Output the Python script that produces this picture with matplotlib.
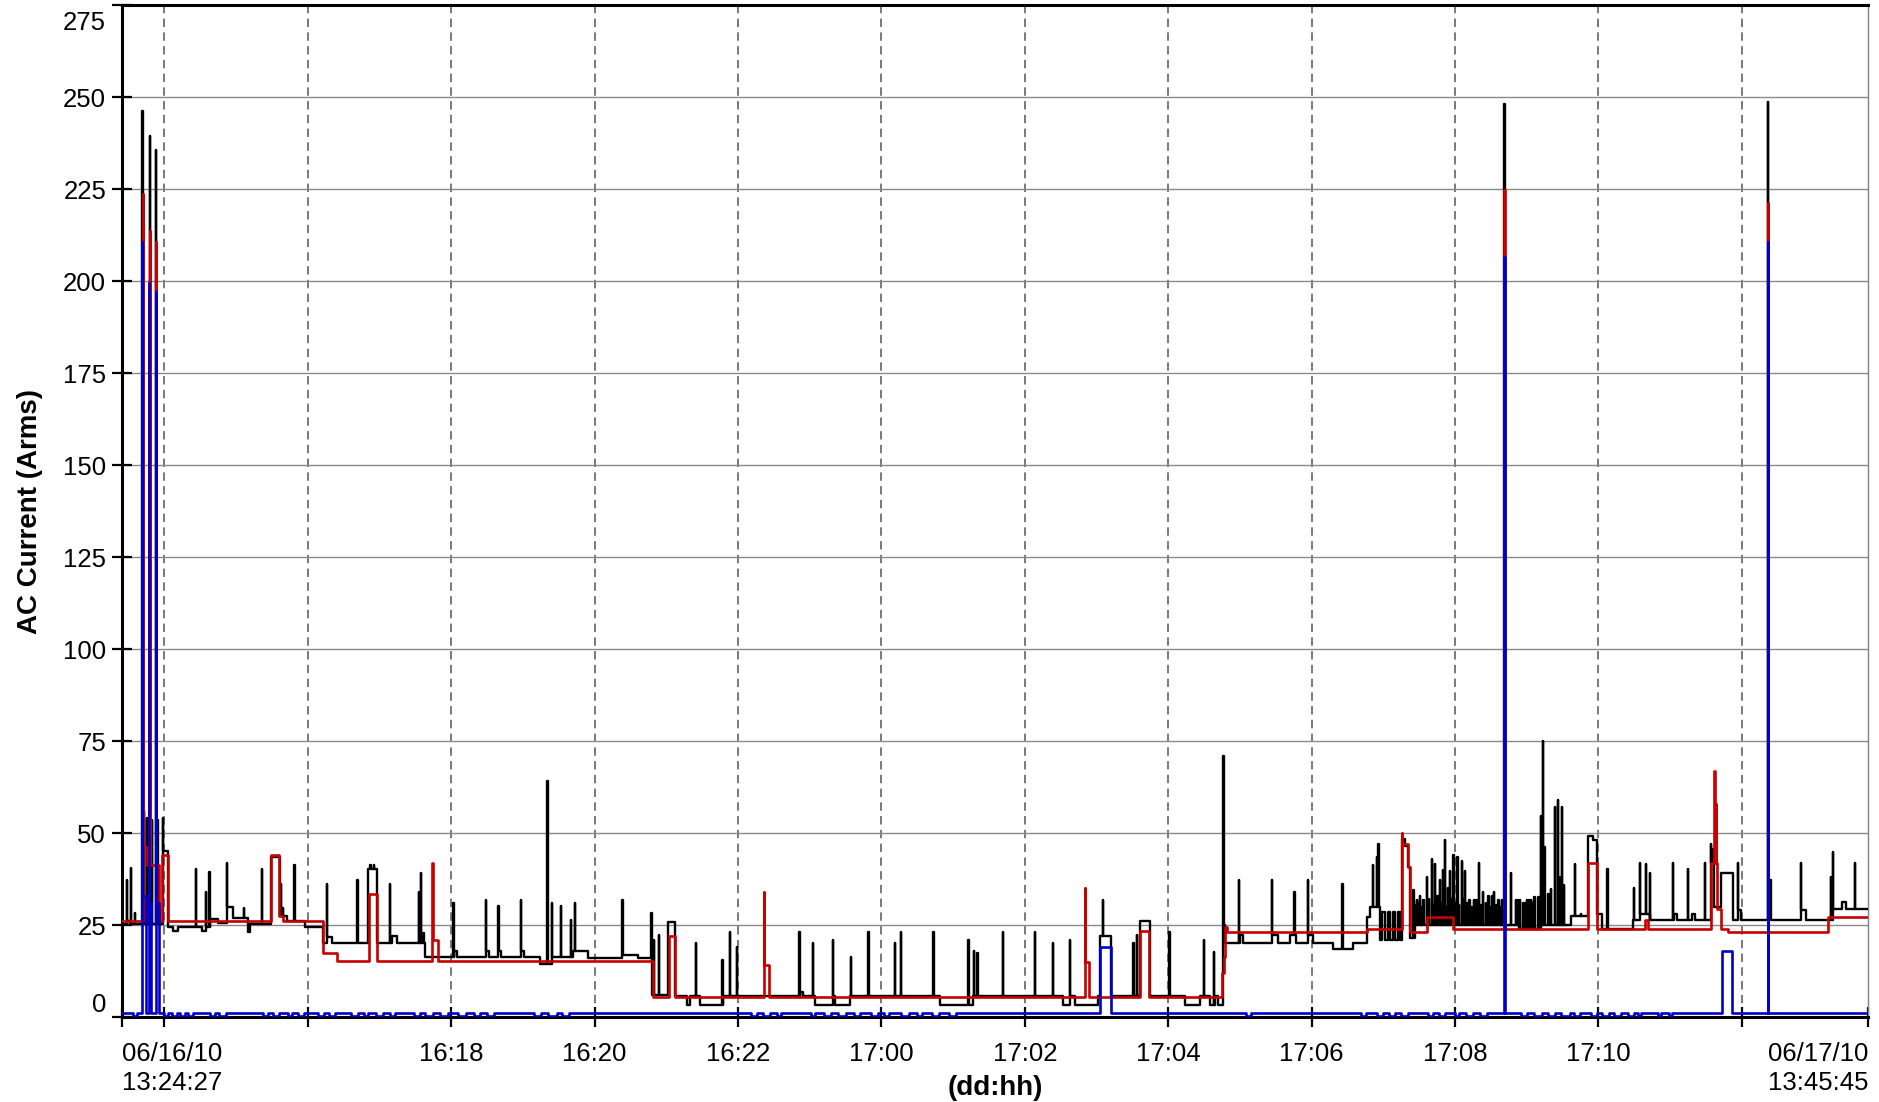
import numpy as np
import matplotlib
matplotlib.use("Agg")
import matplotlib.pyplot as plt
from matplotlib.transforms import ScaledTranslation

plt.rcParams['font.family'] = ['Liberation Sans', 'DejaVu Sans']

# Time axis: hours counted from 06/16/10 00:00
T_START = 13.4075   # 06/16/10 13:24:27
T_END = 37.7625     # 06/17/10 13:45:45

# ---------------- black trace ----------------
black_step_t = [13.4075, 13.48, 13.52, 13.984, 14.053, 14.119, 14.189, 14.519, 14.579, 14.635,
                14.747, 14.868, 14.960, 15.165, 15.193, 15.482, 15.611, 15.705, 15.960, 16.207,
                16.27, 16.33, 16.843, 16.968, 17.169, 17.239, 17.634, 18.04, 18.08, 18.49,
                18.53, 18.66, 18.70, 18.97, 19.01, 19.238, 19.401, 19.70, 19.91, 20.39,
                20.60, 20.795, 21.027, 21.120, 21.284, 21.330, 21.47, 21.79, 22.86, 22.90,
                23.073, 23.32, 23.36, 23.561, 24.817, 25.282, 26.537, 26.63, 26.70, 27.026,
                27.049, 27.198, 27.607, 27.746, 28.235, 28.444, 28.59, 28.65, 28.70, 28.765,
                28.80, 29.002, 29.05, 29.445, 29.537, 29.70, 29.79, 29.955, 30.025, 30.30,
                30.58, 30.769, 30.82, 30.955, 30.99, 31.03, 31.06, 31.10, 31.13, 31.17,
                31.20, 31.23, 31.257, 31.30, 31.350, 31.373, 31.45, 32.695, 32.705, 32.90,
                33.20, 33.62, 33.860, 33.92, 33.977, 34.05, 34.48, 34.58, 34.72, 35.06,
                35.10, 35.31, 35.35, 35.571, 35.61, 35.718, 35.879, 35.955, 35.99, 36.83,
                36.90, 37.28, 37.40, 37.46]
black_step_v = [25.2, 26.0, 25.2, 45.2, 24.5, 23.4, 24.5, 23.4, 24.5, 26.5,
                25.5, 29.9, 27.0, 23.1, 25.2, 43.4, 27.5, 26.0, 24.5, 20.0,
                21.8, 20.0, 40.3, 20.0, 22.0, 20.0, 16.4, 18.0, 16.4, 18.0,
                16.4, 18.0, 16.4, 18.0, 16.4, 14.4, 16.4, 18.0, 15.9, 16.8,
                15.9, 6.0, 25.8, 5.8, 3.3, 5.8, 3.3, 5.8, 6.9, 5.8,
                3.3, 5.8, 3.3, 5.8, 3.3, 5.8, 3.3, 5.8, 3.3, 5.8,
                22.0, 5.8, 26.1, 5.8, 3.3, 5.8, 3.3, 5.8, 3.3, 24.9,
                20.0, 22.2, 20.0, 22.2, 20.0, 22.2, 20.0, 22.2, 20.0, 18.5,
                20.0, 27.2, 29.9, 20.9, 28.5, 20.9, 28.5, 20.9, 28.5, 20.9,
                28.5, 20.9, 48.4, 46.6, 40.7, 21.5, 25.0, 59.0, 24.9, 24.0,
                24.9, 27.5, 49.1, 48.0, 28.1, 24.0, 26.3, 28.1, 26.3, 28.1,
                26.3, 28.1, 26.3, 41.8, 30.0, 39.1, 26.3, 29.0, 26.3, 29.0,
                26.3, 29.4, 31.3, 29.4]
black_spike_t = [13.473, 13.533, 13.589, 13.693, 13.714, 13.752, 13.795, 13.822, 13.878, 13.900,
                 13.980, 14.440, 14.575, 14.625, 14.866, 15.109, 15.356, 15.621, 15.649, 15.811,
                 16.262, 16.692, 16.87, 16.92, 17.145, 17.546, 17.574, 17.610, 18.029, 18.485,
                 18.656, 18.969, 19.340, 19.401, 19.531, 19.666, 19.722, 20.386, 20.790, 20.827,
                 20.897, 21.409, 21.780, 21.888, 21.981, 22.854, 23.041, 23.328, 23.575, 23.817,
                 24.189, 24.273, 24.724, 25.212, 25.292, 25.338, 25.692, 26.142, 26.389, 26.631,
                 27.087, 27.514, 27.561, 28.016, 28.500, 28.640, 28.769, 28.988, 29.445, 29.760,
                 29.947, 30.432, 30.852, 30.915, 30.931, 31.419, 31.44, 31.467, 31.49, 31.513,
                 31.54, 31.560, 31.611, 31.64, 31.677, 31.70, 31.723, 31.74, 31.765, 31.793,
                 31.82, 31.835, 31.862, 31.88, 31.904, 31.932, 31.95, 31.978, 32.00, 32.033,
                 32.06, 32.094, 32.12, 32.140, 32.17, 32.200, 32.23, 32.266, 32.30, 32.335,
                 32.37, 32.395, 32.43, 32.465, 32.49, 32.513, 32.545, 32.57, 32.605, 32.63,
                 32.652, 32.689, 32.784, 32.853, 32.88, 32.909, 32.955, 32.98, 33.002, 33.03,
                 33.057, 33.08, 33.108, 33.163, 33.197, 33.225, 33.247, 33.303, 33.341, 33.397,
                 33.434, 33.46, 33.490, 33.52, 33.676, 33.755, 34.125, 34.50, 34.58, 34.66,
                 34.72, 35.04, 35.25, 35.49, 35.575, 35.60, 35.95, 36.369, 36.402, 36.821,
                 37.244, 37.276, 37.579]
black_spike_v = [37.3, 40.4, 28.3, 246.3, 56.0, 54.0, 239.5, 53.4, 235.5, 53.4,
                 54.0, 40.3, 34.1, 39.4, 41.9, 29.5, 40.3, 36.2, 29.5, 41.4,
                 36.2, 37.1, 41.4, 41.4, 36.2, 34.0, 39.2, 22.7, 31.0, 31.9,
                 30.1, 31.9, 64.2, 31.0, 30.1, 26.3, 31.0, 31.9, 28.3, 20.9,
                 22.2, 20.0, 15.4, 23.1, 19.1, 23.1, 20.0, 21.0, 16.4, 23.1,
                 20.0, 23.1, 23.1, 21.0, 18.0, 17.5, 23.1, 23.1, 20.0, 21.0,
                 31.9, 20.0, 22.2, 23.1, 20.9, 17.7, 71.0, 37.2, 37.2, 34.0,
                 37.2, 36.1, 41.2, 43.5, 47.1, 34.4, 30.5, 31.7, 31.0, 33.0,
                 30.0, 31.7, 38.0, 32.0, 43.0, 30.5, 41.6, 33.0, 33.0, 37.1,
                 31.0, 40.0, 48.1, 30.0, 35.0, 39.8, 32.0, 43.9, 31.0, 43.5,
                 30.5, 42.5, 32.0, 39.8, 31.0, 31.7, 30.0, 31.7, 31.7, 41.8,
                 30.5, 34.0, 31.0, 33.0, 30.0, 33.0, 34.0, 30.5, 31.7, 30.0,
                 31.7, 248.0, 39.1, 31.7, 31.7, 31.7, 31.0, 31.0, 31.7, 31.7,
                 31.7, 31.0, 32.5, 32.5, 54.7, 75.1, 46.2, 33.5, 34.9, 57.0,
                 59.0, 38.0, 57.0, 36.0, 41.5, 28.1, 40.3, 35.1, 41.8, 41.5,
                 39.1, 41.8, 40.3, 41.8, 47.1, 45.7, 41.8, 248.7, 37.1, 41.8,
                 38.0, 44.8, 41.8]

# ---------------- red trace ----------------
red_step_t = [13.4075, 13.700, 13.756, 13.924, 13.970, 14.045, 15.482, 15.597, 15.66, 16.207,
              16.401, 16.853, 16.968, 17.736, 17.820, 20.809, 21.032, 21.120, 22.362, 22.431,
              26.840, 26.900, 27.607, 27.737, 28.756, 28.775, 28.790, 28.817, 30.769, 31.257,
              31.350, 31.373, 31.606, 31.977, 32.695, 32.705, 33.860, 33.977, 34.648, 34.694,
              35.571, 35.650, 35.718, 35.810, 37.20]
red_step_v = [26.2, 46.2, 41.2, 26.2, 43.9, 26.2, 43.9, 27.5, 26.2, 17.3,
              15.3, 33.3, 15.3, 20.9, 15.3, 5.3, 22.0, 5.3, 14.1, 5.3,
              15.0, 5.3, 23.3, 5.3, 12.0, 16.4, 24.5, 23.1, 23.8, 47.1,
              40.7, 23.1, 27.2, 24.0, 43.9, 24.0, 41.8, 23.8, 26.3, 23.8,
              41.8, 29.4, 24.0, 23.1, 27.2]
red_spike_t = [13.696, 13.798, 13.878, 17.736, 22.362, 26.840, 31.257, 32.689, 35.620, 35.645,
               36.369]
red_spike_v = [223.6, 213.6, 210.6, 41.8, 34.0, 35.0, 50.0, 224.7, 66.9, 57.9,
               221.1]

# ---------------- blue trace ----------------
blue_step_t = [13.4075, 13.693, 13.738, 13.790, 13.812, 13.882, 13.924, 27.049, 27.198, 32.695,
               32.705, 35.732, 35.872]
blue_step_v = [1.0, 33.0, 1.0, 31.0, 1.0, 31.0, 1.0, 18.9, 1.0, 34.4,
               1.0, 18.0, 1.0]
blue_spike_t = [13.691, 13.788, 13.878, 32.689, 36.369]
blue_spike_v = [210.6, 199.5, 197.0, 206.5, 210.7]
blue_dip_start = [13.56, 13.99, 14.10, 14.22, 14.33, 14.64, 14.76, 15.38, 15.52, 15.72,
                  15.86, 16.14, 16.30, 16.60, 16.78, 16.95, 17.14, 17.48, 17.64, 17.85,
                  18.10, 18.32, 18.50, 19.15, 19.35, 19.55, 22.18, 22.35, 22.55, 23.02,
                  23.20, 23.40, 23.62, 23.85, 24.03, 24.28, 24.50, 24.70, 24.95, 29.08,
                  30.69, 30.92, 31.08, 31.25, 31.63, 31.78, 32.00, 32.15, 32.35, 32.92,
                  33.10, 33.30, 33.48, 33.66, 33.90, 34.05, 34.22, 34.42, 34.55, 34.84,
                  34.98]
blue_dip_end = [13.62, 14.05, 14.17, 14.28, 14.40, 14.70, 14.86, 15.45, 15.60, 15.78,
                15.95, 16.22, 16.38, 16.70, 16.84, 17.05, 17.22, 17.56, 17.75, 17.95,
                18.20, 18.40, 18.60, 19.25, 19.47, 19.64, 22.26, 22.44, 22.60, 23.08,
                23.30, 23.50, 23.70, 23.95, 24.10, 24.38, 24.56, 24.80, 25.04, 29.16,
                30.76, 31.00, 31.16, 31.35, 31.70, 31.86, 32.06, 32.25, 32.45, 33.00,
                33.22, 33.40, 33.60, 33.75, 33.98, 34.15, 34.32, 34.50, 34.60, 34.88,
                35.03]
BLUE_DIP_LEVEL = 0.2
BLUE_REST_LEVEL = 1.0

# ---------------- axis labels ----------------
tick_hours = [14, 16, 18, 20, 22, 24, 26, 28, 30, 32, 34, 36]
tick_labels = ['', '', '16:18', '16:20', '16:22', '17:00', '17:02', '17:04',
               '17:06', '17:08', '17:10', '']
edge_labels = ['06/16/10\n13:24:27', '06/17/10\n13:45:45']
y_ticks = [0, 25, 50, 75, 100, 125, 150, 175, 200, 225, 250, 275]


def stepped(step_t, step_v, spike_t=(), spike_v=(), width=0.004):
    """Combine a step profile with narrow spikes into one step-post series."""
    st = np.asarray(step_t, float)
    sv = np.asarray(step_v, float)
    order = np.argsort(st, kind='stable')
    st, sv = st[order], sv[order]
    t = list(st)
    v = list(sv)
    for ts, vs in zip(spike_t, spike_v):
        back = sv[max(np.searchsorted(st, ts + width, side='right') - 1, 0)]
        t += [ts, ts + width]
        v += [vs, back]
    t = np.asarray(t)
    v = np.asarray(v)
    order = np.argsort(t, kind='stable')
    t, v = t[order], v[order]
    t = np.append(t, T_END)
    v = np.append(v, v[-1])
    return t, v


bt, bv = stepped(black_step_t, black_step_v, black_spike_t, black_spike_v)
rt, rv = stepped(red_step_t, red_step_v, red_spike_t, red_spike_v)

blue_t = list(blue_step_t)
blue_v = list(blue_step_v)
for a, b in zip(blue_dip_start, blue_dip_end):
    blue_t += [a, b]
    blue_v += [BLUE_DIP_LEVEL, BLUE_REST_LEVEL]
ut, uv = stepped(blue_t, blue_v, blue_spike_t, blue_spike_v)

fig = plt.figure(figsize=(18.79, 11.02), dpi=100, facecolor='white')
ax = fig.add_axes([0.06493, 0.07713, 0.92922, 0.91833])

ax.plot(bt, bv, drawstyle='steps-post', color='black', lw=1.7, zorder=3)
ax.plot(rt, rv, drawstyle='steps-post', color='#C80000', lw=1.9, zorder=4)
ax.plot(ut, uv, drawstyle='steps-post', color='#0000C8', lw=1.9, zorder=5)

ax.set_xlim(T_START, T_END)
ax.set_ylim(0, 275)

ax.set_xticks(tick_hours, labels=tick_labels)
ax.set_xticks([T_START, T_END], labels=edge_labels, minor=True)
ax.set_yticks(y_ticks, labels=[str(v) for v in y_ticks])

ax.set_axisbelow(True)
ax.yaxis.grid(True, color='#8a8a8a', lw=1.0)
ax.xaxis.grid(True, which='major', color='#555555', lw=1.1, linestyle=(0, (5.5, 3.5)))

ax.tick_params(axis='both', which='both', direction='inout', length=14, width=1.6,
               color='black', labelsize=18.5)
ax.tick_params(axis='x', which='both', pad=11)
ax.tick_params(axis='y', pad=4.4)

for side in ('left', 'bottom', 'top'):
    ax.spines[side].set_linewidth(2.2)
    ax.spines[side].set_color('black')
ax.spines['right'].set_linewidth(1.0)
ax.spines['right'].set_color('#808080')

minor_labels = ax.get_xticklabels(minor=True)
minor_labels[0].set_horizontalalignment('left')
minor_labels[1].set_horizontalalignment('right')
for lbl in minor_labels:
    lbl.set_linespacing(1.25)

# keep the outermost y labels inside the frame height
ylbls = ax.get_yticklabels()
ylbls[0].set_transform(ylbls[0].get_transform() + ScaledTranslation(0, 0.15, fig.dpi_scale_trans))
ylbls[-1].set_transform(ylbls[-1].get_transform() + ScaledTranslation(0, -0.15, fig.dpi_scale_trans))

ax.set_ylabel('AC Current (Arms)', fontsize=20, fontweight='bold')
ax.yaxis.set_label_coords(-0.045, 0.5)
ax.set_xlabel('(dd:hh)', fontsize=20, fontweight='bold')
ax.xaxis.set_label_coords(0.5, -0.057)

fig.savefig('out.png', dpi=100, facecolor='white')
